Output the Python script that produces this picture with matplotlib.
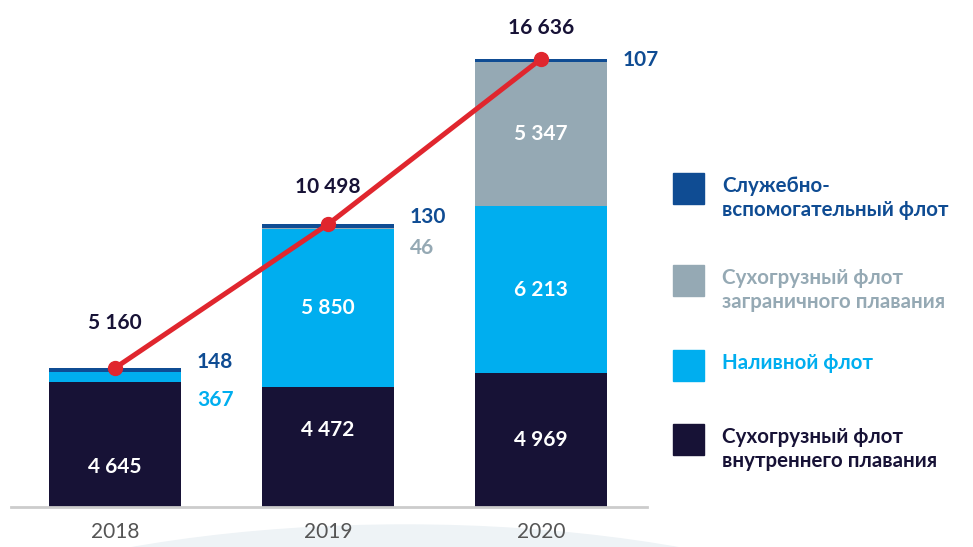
import matplotlib.pyplot as plt
from matplotlib.patches import Ellipse, Rectangle

years = ['2018', '2019', '2020']
dry_inland = [4645, 4472, 4969]      # Сухогрузный флот внутреннего плавания
tanker = [367, 5850, 6213]           # Наливной флот
dry_foreign = [0, 46, 5347]          # Сухогрузный флот заграничного плавания
service = [148, 130, 107]            # Служебно-вспомогательный флот
totals = [5160, 10498, 16636]

c_dark = '#171236'
c_light = '#00aeef'
c_gray = '#95a9b4'
c_blue = '#0f4c93'
c_red = '#e0262e'

plt.rcParams['font.family'] = ['Lato', 'DejaVu Sans']


def fmt(v):
    return f'{v:,}'.replace(',', ' ')


W, H = 973, 547
fig = plt.figure(figsize=(W / 100, H / 100), dpi=100)

# light arc decoration under the axis (own background axes)
bg = fig.add_axes([0, 0, 1, 1], zorder=-1)
bg.set_xlim(0, W)
bg.set_ylim(0, H)
bg.axis('off')
bg.add_patch(Ellipse((405, -184), 1200, 412, color='#eef3f6'))

ax = fig.add_axes([11 / W, 40 / H, 636 / W, 507 / H], zorder=1)
ax.patch.set_alpha(0)
ymax = 16636 * 507 / 448
ax.set_ylim(0, ymax)
ax.set_xlim(-0.488, 2.498)

x = list(range(len(years)))
w = 0.62
b1 = dry_inland
b2 = [a + b for a, b in zip(b1, tanker)]
b3 = [a + b for a, b in zip(b2, dry_foreign)]
ax.bar(x, dry_inland, w, color=c_dark, zorder=2)
ax.bar(x, tanker, w, bottom=b1, color=c_light, zorder=2)
ax.bar(x, dry_foreign, w, bottom=b2, color=c_gray, zorder=2)
ax.bar(x, service, w, bottom=b3, color=c_blue, zorder=2)

ax.plot(x, totals, color=c_red, lw=3.6, marker='o', ms=10, zorder=4)

for s in ['top', 'right', 'left']:
    ax.spines[s].set_visible(False)
ax.spines['bottom'].set_color('#cccccc')
ax.spines['bottom'].set_linewidth(2)
ax.set_yticks([])
ax.set_xticks(x)
ax.set_xticklabels(years, fontsize=15, color='#555555')
ax.tick_params(axis='x', length=0, pad=11)

lab = dict(fontsize=15, fontweight='bold', ha='center', va='center', zorder=5)

# totals above the bars
tot_off = [1673, 1385, 1151]
for i, t in enumerate(totals):
    ax.text(x[i], t + tot_off[i], fmt(t), color=c_dark, **lab)

# labels inside the bars
inland_y = [1485, 2860, dry_inland[2] / 2]
for i in x:
    ax.text(x[i], inland_y[i], fmt(dry_inland[i]), color='white', **lab)
for i in [1, 2]:
    ax.text(x[i], b1[i] + tanker[i] / 2, fmt(tanker[i]), color='white', **lab)
ax.text(x[2], b2[2] + dry_foreign[2] / 2, fmt(dry_foreign[2]), color='white', **lab)

# small values beside the bars
side = dict(fontsize=15, fontweight='bold', ha='left', va='center', zorder=5)
sx = 0.385
ax.text(x[0] + sx, 5384, fmt(service[0]), color=c_blue, **side)
ax.text(x[0] + sx, 3973, fmt(tanker[0]), color=c_light, **side)
ax.text(x[1] + sx, 10769, fmt(service[1]), color=c_blue, **side)
ax.text(x[1] + sx, 9618, fmt(dry_foreign[1]), color=c_gray, **side)
ax.text(x[2] + sx, 16599, fmt(service[2]), color=c_blue, **side)

# legend drawn by hand
legend = [
    (c_blue, 'Служебно-\nвспомогательный флот', 173, c_blue),
    (c_gray, 'Сухогрузный флот\nзаграничного плавания', 265, c_gray),
    (c_light, 'Наливной флот', 350, c_light),
    (c_dark, 'Сухогрузный флот\nвнутреннего плавания', 424, c_dark),
]
for col, txt, top, tcol in legend:
    fig.patches.append(Rectangle((673 / W, (H - top - 31) / H), 31 / W, 31 / H,
                                 transform=fig.transFigure, color=col))
    fig.text(722 / W, (H - top - 3) / H, txt, color=tcol, fontsize=14.8,
             fontweight='bold', ha='left', va='top', linespacing=1.22)

fig.savefig('out.png', dpi=100)
